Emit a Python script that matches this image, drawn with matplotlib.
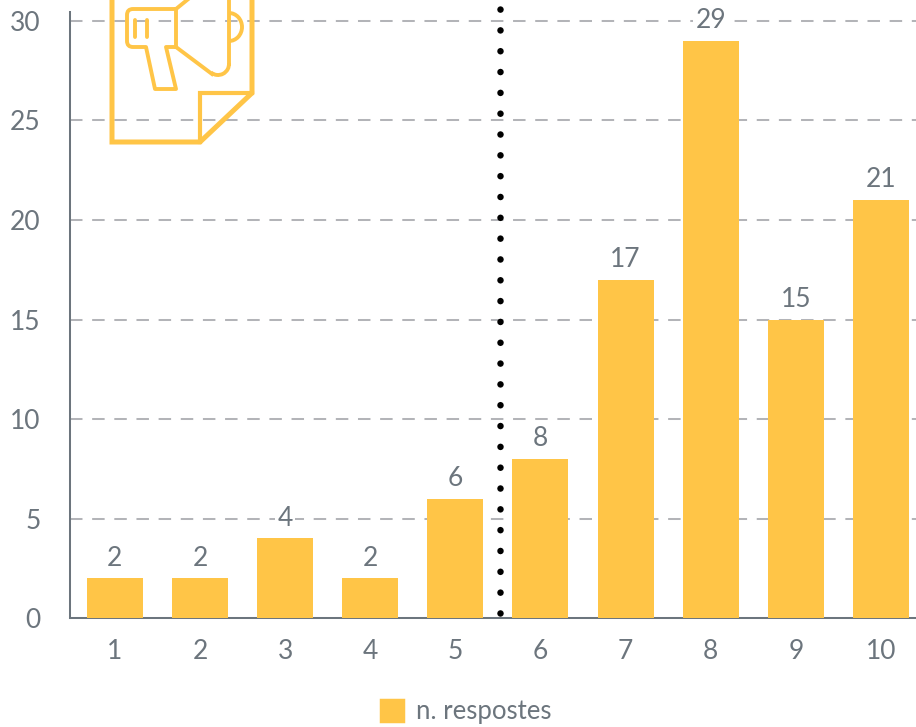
import numpy as np
import matplotlib
matplotlib.use("Agg")
import matplotlib.pyplot as plt
from matplotlib.patches import Patch, Arc, PathPatch
from matplotlib.path import Path

categories = ["1", "2", "3", "4", "5", "6", "7", "8", "9", "10"]
respostes = [2, 2, 4, 2, 6, 8, 17, 29, 15, 21]
y_ticks = [0, 5, 10, 15, 20, 25, 30]
series_name = "n. respostes"

GROC = "#ffc547"
GRIS = "#6c757d"
GRID = "#b3b4b8"
W, H = 916, 727

plt.rcParams["font.family"] = ["Lato", "DejaVu Sans"]

fig = plt.figure(figsize=(W / 100, H / 100), dpi=100)
# l'eix surt una mica per la dreta, com a l'original
ax = fig.add_axes([70 / W, (H - 618.1) / H, 854 / W, 606.1 / H])

x = np.arange(len(categories))
barres = ax.bar(x, respostes, width=0.658, color=GROC, zorder=3, label=series_name)
ax.set_xlim(-0.528, 9.507)
ax.set_ylim(0, 30.45)

ax.set_xticks(x, categories)
ax.set_yticks(y_ticks)
ax.tick_params(axis="x", length=0, pad=15, labelsize=19, labelcolor=GRIS)
ax.tick_params(axis="y", length=0, pad=21, labelsize=19, labelcolor=GRIS)
ax.yaxis.grid(True, color=GRID, linewidth=1.45, linestyle=(0, (6.2, 4.8)), zorder=1)
ax.set_axisbelow(True)

for s in ["top", "right"]:
    ax.spines[s].set_visible(False)
for s in ["left", "bottom"]:
    ax.spines[s].set_color(GRIS)
    ax.spines[s].set_linewidth(1.45)

# etiquetes de valor amb fons blanc (tallen la graella)
etiquetes = ax.bar_label(barres, padding=5.5, fontsize=19, color=GRIS, zorder=4)
for t in etiquetes:
    t.set_bbox(dict(facecolor="white", edgecolor="none", pad=1.5))

# linia de punts entre el 5 i el 6
ax.plot([4.53, 4.53], [0.25, 30.65], color="black", linewidth=4.7,
        linestyle=(0, (0.01, 3.18)), dash_capstyle="round", clip_on=False, zorder=5)

# llegenda
handle = Patch(facecolor=GROC, edgecolor=GROC, linewidth=2.5, joinstyle="round")
fig.legend(handles=[handle], labels=[series_name], loc="center",
           bbox_to_anchor=(466 / W, (H - 712) / H), frameon=False, fontsize=18.5,
           labelcolor=GRIS, handlelength=0.86, handleheight=0.86, handletextpad=0.5,
           borderpad=0, borderaxespad=0)

# icona del megafon, en pixels de la figura
ic = fig.add_axes([0, 0, 1, 1], facecolor="none")
ic.set_xlim(0, W)
ic.set_ylim(H, 0)
ic.axis("off")
gruix = 3.6
prim = 2.8
ic.plot([112, 112, 200, 252, 252], [-6, 142, 142, 93, -6], color=GROC, lw=gruix,
        solid_joinstyle="miter")
ic.plot([200, 200, 252], [142, 93, 93], color=GROC, lw=gruix - 0.6, solid_joinstyle="miter")
# cos i mànec
cos = Path([(176, 9), (133, 9), (127, 9), (127, 15), (127, 41), (127, 47), (133, 47), (146, 47),
            (155, 89), (176, 89), (166, 47), (176, 47)],
           [Path.MOVETO, Path.LINETO, Path.CURVE3, Path.CURVE3, Path.LINETO, Path.CURVE3,
            Path.CURVE3, Path.LINETO, Path.LINETO, Path.LINETO, Path.LINETO, Path.LINETO])
ic.add_patch(PathPatch(cos, facecolor="none", edgecolor=GROC, lw=prim, joinstyle="round"))
ic.plot([176, 176], [9, 47], color=GROC, lw=prim)
ic.plot([135, 135], [20, 37], color=GROC, lw=prim, solid_capstyle="round")
ic.plot([147, 147], [20, 37], color=GROC, lw=prim, solid_capstyle="round")
ic.plot([176, 192], [9, -4], color=GROC, lw=prim)
ic.plot([176, 212], [47, 74], color=GROC, lw=prim)
ic.add_patch(Arc((218, 64), 22, 22, theta1=-5, theta2=130, edgecolor=GROC, lw=prim))
ic.plot([229, 229], [64, -4], color=GROC, lw=prim)
ic.add_patch(Arc((229, 27), 26, 28, theta1=-90, theta2=90, edgecolor=GROC, lw=prim))

fig.savefig("out.png", dpi=100)
